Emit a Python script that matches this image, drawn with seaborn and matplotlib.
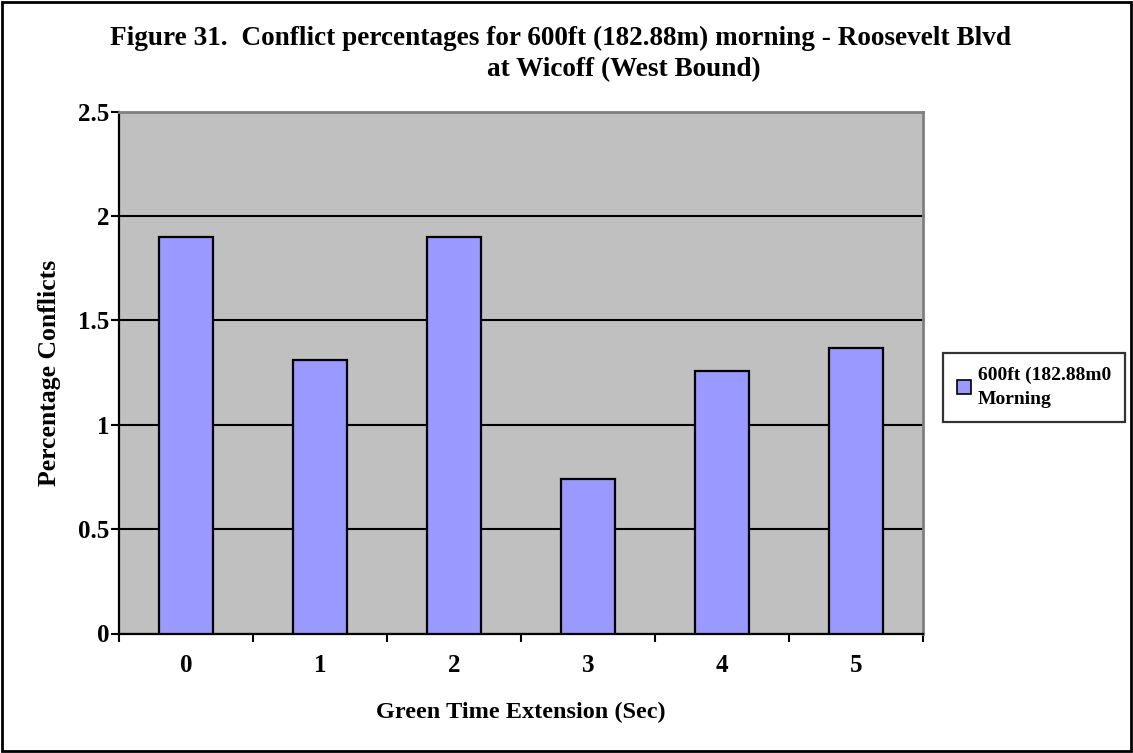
import matplotlib
matplotlib.use("Agg")
import matplotlib.pyplot as plt
import seaborn as sns
import pandas as pd
from matplotlib.patches import Rectangle

# Conflict percentages by green time extension
extensions = ["0", "1", "2", "3", "4", "5"]
conflict_pct = [1.90, 1.31, 1.90, 0.74, 1.26, 1.37]
series_label = "600ft (182.88m0\nMorning"
y_ticks = [0, 0.5, 1, 1.5, 2, 2.5]
y_tick_labels = ["0", "0.5", "1", "1.5", "2", "2.5"]

sns.set_theme(style="white")
plt.rcParams["font.family"] = ["Liberation Serif", "DejaVu Serif"]
plt.rcParams["font.weight"] = "bold"
plt.rcParams["text.color"] = "black"
plt.rcParams["axes.labelcolor"] = "black"
plt.rcParams["xtick.color"] = "black"
plt.rcParams["ytick.color"] = "black"

df = pd.DataFrame({"ext": extensions, "pct": conflict_pct})

fig = plt.figure(figsize=(11.33, 7.53), dpi=100)
fig.patch.set_facecolor("white")
ax = fig.add_axes([119 / 1133, 1 - 633.5 / 753, (923 - 119) / 1133, (633.5 - 111.7) / 753])
ax.set_facecolor("#C0C0C0")

sns.barplot(data=df, x="ext", y="pct", ax=ax, color="#9999FF", width=0.405,
            saturation=1, edgecolor="black", linewidth=1.6, zorder=3)

ax.set_xlim(-0.5, 5.5)
ax.set_ylim(0, 2.5)
ax.set_yticks(y_ticks)
ax.set_yticklabels(y_tick_labels, fontsize=18, fontweight="bold")
ax.yaxis.grid(True, color="black", linewidth=1.5, zorder=0)
ax.set_axisbelow(True)

# category labels centred, tick marks on category boundaries
ax.set_xticks(range(len(extensions)))
ax.set_xticklabels(extensions, fontsize=18, fontweight="bold")
ax.set_xticks([i - 0.5 for i in range(len(extensions) + 1)], minor=True)
ax.tick_params(axis="x", which="major", length=0, pad=15)
ax.tick_params(axis="x", which="minor", length=6, width=1.5, direction="out", color="black", bottom=True)
ax.tick_params(axis="y", which="major", length=5.5, width=1.5, direction="out", color="black", left=True, pad=1.5)

for side in ("left", "bottom"):
    ax.spines[side].set_color("black")
    ax.spines[side].set_linewidth(1.6)
for side in ("top", "right"):
    ax.spines[side].set_color("#808080")
    ax.spines[side].set_linewidth(2)

ax.set_xlabel("Green Time Extension (Sec)", fontsize=17.5, fontweight="bold", labelpad=18)
ax.set_ylabel("Percentage Conflicts", fontsize=18.5, fontweight="bold", labelpad=12)

fig.text(560 / 1133, 1 - 38 / 753, "Figure 31.  Conflict percentages for 600ft (182.88m) morning - Roosevelt Blvd",
         ha="center", va="center", fontsize=19.6, fontweight="bold")
fig.text(624 / 1133, 1 - 70 / 753, "at Wicoff (West Bound)",
         ha="center", va="center", fontsize=19.6, fontweight="bold")

leg_handle = Rectangle((0, 0), 1, 1, facecolor="#9999FF", edgecolor="black", linewidth=1.2)
leg = fig.legend([leg_handle], [series_label], loc="upper left",
                 bbox_to_anchor=(943 / 1133, 1 - 353 / 753), frameon=True, fancybox=False,
                 fontsize=14, handlelength=0.75, handleheight=0.75, handletextpad=0.35,
                 borderpad=0.7, borderaxespad=0)
leg.get_frame().set_edgecolor("black")
leg.get_frame().set_linewidth(1.6)
for t in leg.get_texts():
    t.set_fontweight("bold")
    t.set_linespacing(1.55)

# outer border of the chart
fig.add_artist(Rectangle((0.002, 0.002), 0.996, 0.996, transform=fig.transFigure,
                         fill=False, edgecolor="black", linewidth=2))

fig.savefig("out.png", dpi=100)
